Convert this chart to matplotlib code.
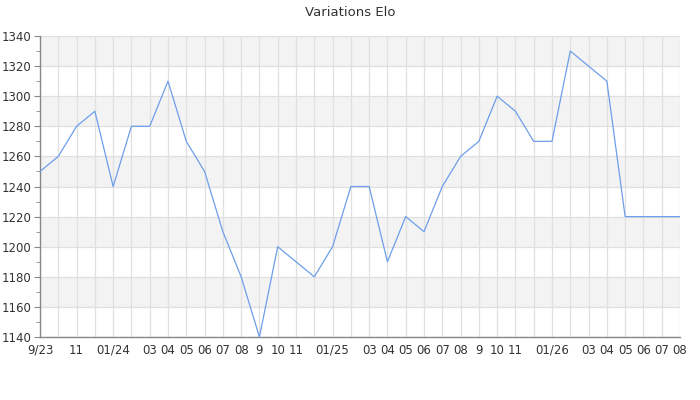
import matplotlib
matplotlib.use('Agg')
import matplotlib.pyplot as plt
from matplotlib.ticker import MultipleLocator

# monthly Elo, Sep 2023 .. Aug 2026
month_labels = ['9/23', '', '11', '', '01/24', '', '03', '04', '05', '06', '07', '08',
                '9', '10', '11', '', '01/25', '', '03', '04', '05', '06', '07', '08',
                '9', '10', '11', '', '01/26', '', '03', '04', '05', '06', '07', '08']
elo = [1250, 1260, 1280, 1290, 1240, 1280, 1280, 1310, 1270, 1250, 1210, 1180,
       1140, 1200, 1190, 1180, 1200, 1240, 1240, 1190, 1220, 1210, 1240, 1260,
       1270, 1300, 1290, 1270, 1270, 1330, 1320, 1310, 1220, 1220, 1220, 1220]
y_min, y_max, y_step = 1140, 1340, 20

x = list(range(len(elo)))

fig = plt.figure(figsize=(7, 4), dpi=100)
ax = fig.add_axes([40 / 700, 63 / 400, 640 / 700, 301 / 400])

# alternating horizontal bands
for i, lo in enumerate(range(y_min, y_max, y_step)):
    if i % 2 == 1:
        ax.axhspan(lo, lo + y_step, color='#f3f3f3', zorder=0, lw=0)

ax.plot(x, elo, color='#6d9eeb', linewidth=0.9, zorder=3)

ax.set_xlim(0, len(elo) - 1)
ax.set_ylim(y_min, y_max)
ax.set_xticks(x)
ax.set_xticklabels(month_labels)
ax.yaxis.set_major_locator(MultipleLocator(y_step))
ax.yaxis.set_minor_locator(MultipleLocator(y_step / 2))

ax.grid(True, which='major', color='#e0e0e0', linewidth=0.9, zorder=1)
ax.set_axisbelow(True)

for side in ['top', 'right']:
    ax.spines[side].set_visible(False)
for side in ['left', 'bottom']:
    ax.spines[side].set_color('#888888')
    ax.spines[side].set_linewidth(1.0)

ax.tick_params(axis='x', length=0, pad=5, labelsize=8.5, colors='#333333')
ax.tick_params(axis='y', which='major', length=4, color='#888888', labelsize=8.5,
               labelcolor='#333333', pad=2)
ax.tick_params(axis='y', which='minor', length=3, color='#888888')

fig.suptitle('Variations Elo', y=0.985, fontsize=9.5, color='#333333')

plt.savefig('out.png', dpi=100)
